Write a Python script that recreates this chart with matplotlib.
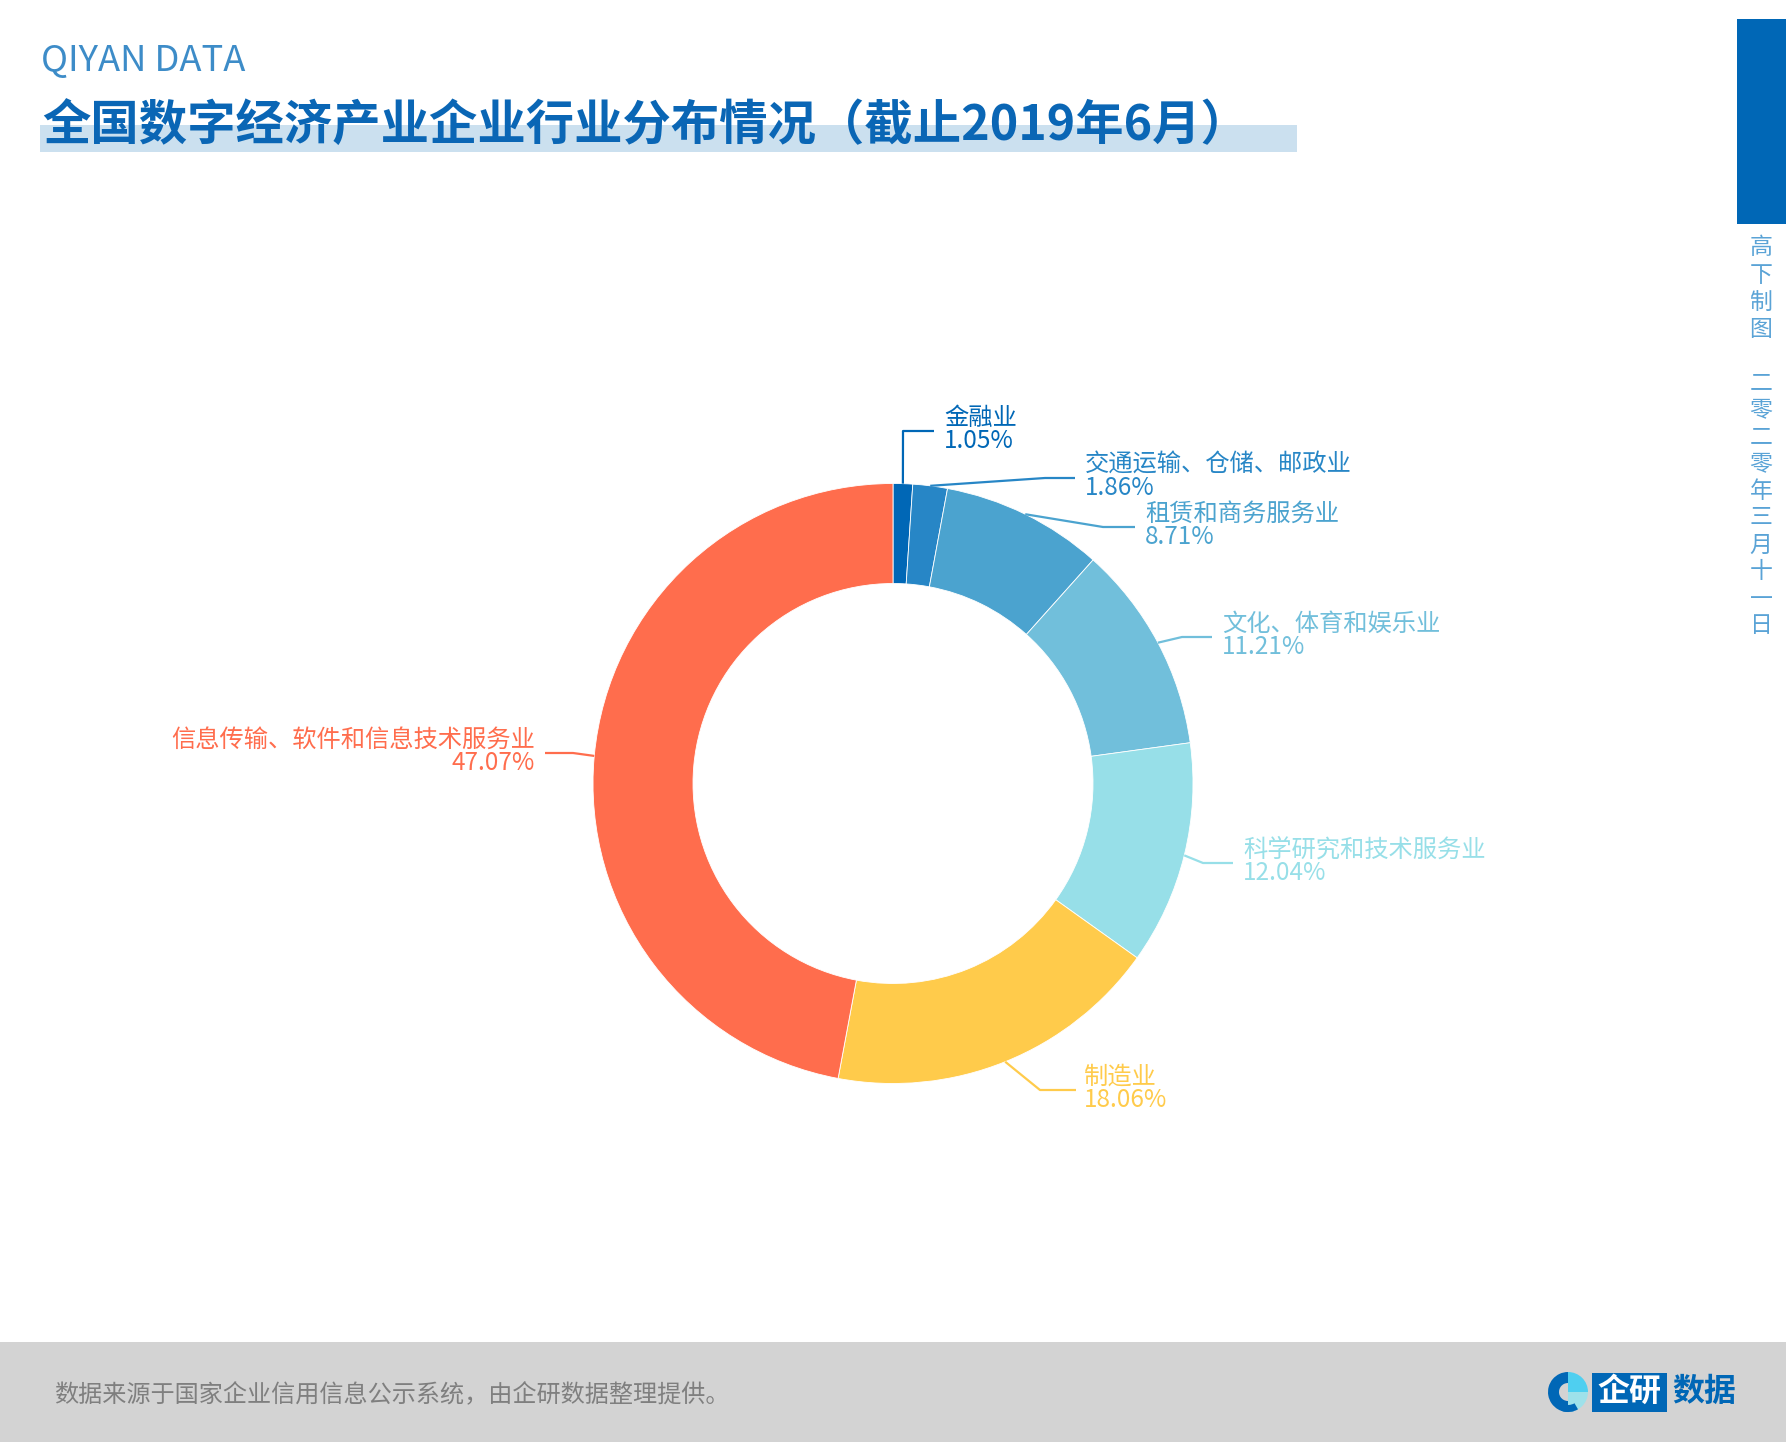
import numpy as np
import matplotlib
matplotlib.use("Agg")
import matplotlib.pyplot as plt
from matplotlib.patches import Rectangle, Wedge

plt.rcParams['font.family'] = ['Noto Sans CJK SC', 'DejaVu Sans']

# ---------------- data ----------------
industries = ['金融业', '交通运输、仓储、邮政业', '租赁和商务服务业', '文化、体育和娱乐业',
              '科学研究和技术服务业', '制造业', '信息传输、软件和信息技术服务业']
shares = [1.05, 1.86, 8.71, 11.21, 12.04, 18.06, 47.07]
colors = ['#0067b6', '#2786c6', '#4ba3cf', '#71bfdb', '#97dfe8', '#ffcb4b', '#ff6d4d']

title_en = 'QIYAN DATA'
title_cn = '全国数字经济产业企业行业分布情况（截止2019年6月）'
side_text = '高下制图　二零二零年三月十一日'
source_text = '数据来源于国家企业信用信息公示系统，由企研数据整理提供。'

# ---------------- layout (pixels, y from top) ----------------
W, H = 1786, 1442
CX, CY, R, RING = 893, 783.5, 300, 100
# label elbow point, end of line, text x, side
label_layout = [
    ((903, 431), 934, 944, 'r'),
    ((1045, 478), 1075, 1085, 'r'),
    ((1103, 527), 1135, 1145, 'r'),
    ((1182, 637), 1212, 1222, 'r'),
    ((1203, 863), 1233, 1243, 'r'),
    ((1040, 1090), 1076, 1084, 'r'),
    ((573, 753), 545, 535, 'l'),
]


def Y(py):
    return H - py


fig = plt.figure(figsize=(W / 100, H / 100), dpi=100)
ax = fig.add_axes([0, 0, 1, 1])

wedges, _ = ax.pie(shares, colors=colors, startangle=90, counterclock=False,
                   radius=R, center=(CX, Y(CY)),
                   wedgeprops=dict(width=RING, edgecolor='white', linewidth=0.6))
ax.set_xlim(0, W)
ax.set_ylim(0, H)
ax.set_aspect('equal')
ax.axis('off')

# labels with leader lines
for w, name, val, col, (elbow, end_x, tx, side) in zip(
        wedges, industries, shares, colors, label_layout):
    mid = np.deg2rad((w.theta1 + w.theta2) / 2)
    sx = CX + R * np.cos(mid)
    sy = Y(CY) + R * np.sin(mid)
    ex, ey = elbow
    ax.plot([sx, ex, end_x], [sy, Y(ey), Y(ey)], color=col, lw=1.6,
            solid_capstyle='butt', zorder=3)
    ha = 'left' if side == 'r' else 'right'
    ax.text(tx, Y(ey - 13), name, color=col, fontsize=17.5, ha=ha, va='center')
    ax.text(tx, Y(ey + 10), f'{val:.2f}%', color=col, fontsize=17.5, ha=ha, va='center')

# header
ax.text(41, Y(61), title_en, color='#3d8cc8', fontsize=26.2, ha='left', va='center')
ax.add_patch(Rectangle((40, Y(152)), 1257, 27, color='#cbe0ef', zorder=1, lw=0))
ax.text(42, Y(126), title_cn, color='#0a66b5', fontsize=34.8, fontweight='bold',
        ha='left', va='center', zorder=2)

# right side bar + vertical text
ax.add_patch(Rectangle((1737, Y(224)), W - 1737, 205, color='#0067b6', lw=0))
for i, ch in enumerate(side_text):
    ax.text(1761, Y(248 + i * 27), ch, color='#5aa3d6', fontsize=16.5,
            ha='center', va='center')

# footer
ax.add_patch(Rectangle((0, 0), W, H - 1342, color='#d3d3d3', lw=0))
ax.text(54, Y(1395), source_text, color='#7f7f7f', fontsize=17.4, ha='left', va='center')

# logo
lx, ly = 1568, Y(1392)
ax.add_patch(Wedge((lx, ly), 20, 90, 290, width=11, color='#0067b6', lw=0))
ax.add_patch(Wedge((lx, ly), 20, 0, 90, color='#4fcff0', lw=0))
ax.add_patch(Wedge((lx, ly), 20, 270, 360, color='#9ee1ea', lw=0))
ax.add_patch(Wedge((lx, ly), 20, 250, 300, width=7, color='#0067b6', lw=0))
ax.add_patch(Rectangle((1592, Y(1412)), 75, 39, color='#0067b6', lw=0))
ax.text(1629.5, ly, '企研', color='white', fontsize=23, fontweight='bold',
        ha='center', va='center')
ax.text(1704, ly, '数据', color='#0067b6', fontsize=23, fontweight='bold',
        ha='center', va='center')

fig.savefig('out.png', dpi=100)
